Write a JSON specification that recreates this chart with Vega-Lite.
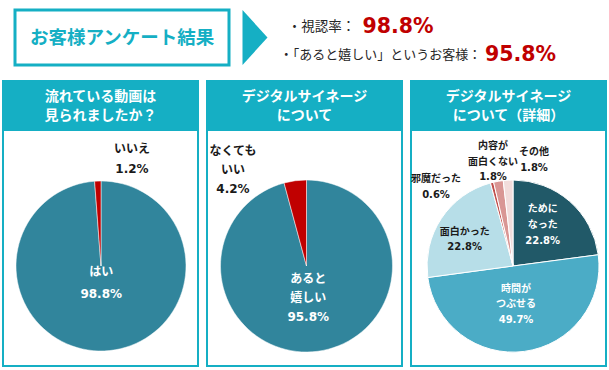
{
  "$schema": "https://vega.github.io/schema/vega-lite/v6.json",
  "background": "white",
  "padding": {"left": 2, "top": 8, "right": 0, "bottom": 0},
  "config": {"view": {"stroke": null}, "font": "Noto Sans CJK JP"},
  "datasets": {
    "pie1": [
      {"name": "はい", "value": 98.8, "order": 1, "label": "はい\n98.8%"},
      {"name": "いいえ", "value": 1.2, "order": 2, "label": "いいえ\n1.2%"}
    ],
    "pie2": [
      {"name": "あると嬉しい", "value": 95.8, "order": 1, "label": "あると\n嬉しい\n95.8%"},
      {"name": "なくてもいい", "value": 4.2, "order": 2, "label": "なくても\nいい\n4.2%"}
    ],
    "pie3": [
      {"name": "ためになった", "value": 22.8, "order": 1, "label": "ために\nなった\n22.8%"},
      {"name": "時間がつぶせる", "value": 49.7, "order": 2, "label": "時間が\nつぶせる\n49.7%"},
      {"name": "面白かった", "value": 22.8, "order": 3, "label": "面白かった\n22.8%"},
      {"name": "邪魔だった", "value": 0.6, "order": 4, "label": "邪魔だった\n0.6%"},
      {"name": "内容が面白くない", "value": 1.8, "order": 5, "label": "内容が\n面白くない\n1.8%"},
      {"name": "その他", "value": 1.8, "order": 6, "label": "その他\n1.8%"}
    ]
  },
  "spacing": 13,
  "resolve": {"scale": {"color": "independent", "theta": "independent"}},
  "vconcat": [
    {
      "spacing": 5,
      "hconcat": [
        {
          "width": 4.5, "height": 55,
          "data": {"values": [{"t": ""}]},
          "mark": {"type": "text"},
          "encoding": {"text": {"field": "t"}}
        },
        {
          "spacing": 11.5,
          "hconcat": [
            {
              "width": 214, "height": 55,
              "view": {"stroke": "#15afc4", "strokeWidth": 3, "fill": "white"},
              "data": {"values": [{"t": "お客様アンケート結果"}]},
              "mark": {"type": "text", "fontSize": 18.5, "fontWeight": "bold", "color": "#15afc4", "font": "Noto Sans CJK JP"},
              "encoding": {"text": {"field": "t"}}
            },
            {
              "width": 25, "height": 55,
              "data": {"values": [{"t": "arrow"}]},
              "mark": {"type": "point", "shape": "M -0.4545 -1 L 0.4545 0 L -0.4545 1 Z", "size": 3025, "filled": true, "color": "#15afc4", "opacity": 1, "strokeWidth": 0},
              "encoding": {}
            },
            {
              "spacing": 0,
              "vconcat": [
                {
                  "spacing": 0,
                  "hconcat": [
                    {
                      "width": 81, "height": 34,
                      "data": {"values": [{"t": "・視認率："}]},
                      "mark": {"type": "text", "fontSize": 13.5, "color": "#262626", "font": "Noto Sans CJK JP"},
                      "encoding": {"text": {"field": "t"}}
                    },
                    {
                      "width": 72, "height": 34,
                      "data": {"values": [{"t": "98.8%"}]},
                      "mark": {"type": "text", "fontSize": 20.5, "fontWeight": "bold", "color": "#c00000", "font": "DejaVu Sans"},
                      "encoding": {"text": {"field": "t"}}
                    }
                  ]
                },
                {
                  "spacing": 2.5,
                  "hconcat": [
                    {
                      "width": 199, "height": 21,
                      "data": {"values": [{"t": "・「あると嬉しい」というお客様："}]},
                      "mark": {"type": "text", "fontSize": 13, "color": "#262626", "font": "Noto Sans CJK JP"},
                      "encoding": {"text": {"field": "t"}}
                    },
                    {
                      "width": 72, "height": 21,
                      "data": {"values": [{"t": "95.8%"}]},
                      "mark": {"type": "text", "fontSize": 20.5, "fontWeight": "bold", "color": "#c00000", "font": "DejaVu Sans"},
                      "encoding": {"text": {"field": "t"}}
                    }
                  ]
                }
              ]
            }
          ]
        }
      ]
    },
    {
      "spacing": 7,
      "resolve": {"scale": {"color": "independent", "theta": "independent"}},
      "hconcat": [
        {
          "spacing": 0,
          "vconcat": [
            {
              "width": 195, "height": 47,
              "view": {"fill": "#15afc4", "stroke": "#15afc4", "strokeWidth": 2},
              "data": {"values": [{"t": "流れている動画は\n見られましたか？"}]},
              "mark": {"type": "text", "color": "white", "fontSize": 14, "fontWeight": "bold", "lineBreak": "\n", "lineHeight": 19, "dy": -7.5, "font": "Noto Sans CJK JP"},
              "encoding": {"text": {"field": "t"}}
            },
            {
              "width": 195, "height": 236,
              "view": {"stroke": "#15afc4", "strokeWidth": 2, "fill": "white"},
              "data": {"name": "pie1"},
              "layer": [
                {
                  "mark": {"type": "arc", "outerRadius": 85, "yOffset": 18, "xOffset": 0.5, "stroke": "white", "strokeWidth": 0.5},
                  "encoding": {
                    "theta": {"field": "value", "type": "quantitative", "stack": true},
                    "order": {"field": "order", "type": "quantitative"},
                    "color": {"field": "name", "type": "nominal", "scale": {"domain": ["はい", "いいえ"], "range": ["#31859c", "#c00000"]}, "legend": null}
                  }
                },
                {
                  "mark": {"type": "text", "radius": 6, "yOffset": 18, "xOffset": 0.5, "color": "white", "fontSize": 12, "fontWeight": "bold", "lineBreak": "\n", "lineHeight": 22, "font": "DejaVu Sans, Noto Sans CJK JP"},
                  "encoding": {
                    "theta": {"field": "value", "type": "quantitative", "stack": true},
                    "order": {"field": "order", "type": "quantitative"},
                    "text": {"condition": {"test": "datum.value > 10", "field": "label"}, "value": ""}
                  }
                },
                {
                  "transform": [{"filter": "datum.name === 'いいえ'"}],
                  "mark": {"type": "text", "xOffset": 31.5, "yOffset": -99, "color": "#1a1a1a", "fontSize": 12, "fontWeight": "bold", "lineBreak": "\n", "lineHeight": 20, "font": "DejaVu Sans, Noto Sans CJK JP"},
                  "encoding": {"text": {"field": "label"}}
                }
              ]
            }
          ]
        },
        {
          "spacing": 0,
          "vconcat": [
            {
              "width": 195, "height": 47,
              "view": {"fill": "#15afc4", "stroke": "#15afc4", "strokeWidth": 2},
              "data": {"values": [{"t": "デジタルサイネージ\nについて"}]},
              "mark": {"type": "text", "color": "white", "fontSize": 14, "fontWeight": "bold", "lineBreak": "\n", "lineHeight": 19, "dy": -7.5, "font": "Noto Sans CJK JP"},
              "encoding": {"text": {"field": "t"}}
            },
            {
              "width": 195, "height": 236,
              "view": {"stroke": "#15afc4", "strokeWidth": 2, "fill": "white"},
              "data": {"name": "pie2"},
              "layer": [
                {
                  "mark": {"type": "arc", "outerRadius": 86, "yOffset": 18, "xOffset": 2, "stroke": "white", "strokeWidth": 0.5},
                  "encoding": {
                    "theta": {"field": "value", "type": "quantitative", "stack": true},
                    "order": {"field": "order", "type": "quantitative"},
                    "color": {"field": "name", "type": "nominal", "scale": {"domain": ["あると嬉しい", "なくてもいい"], "range": ["#31859c", "#c00000"]}, "legend": null}
                  }
                },
                {
                  "mark": {"type": "text", "radius": 13, "yOffset": 18, "xOffset": 2, "color": "white", "fontSize": 12, "fontWeight": "bold", "lineBreak": "\n", "lineHeight": 19, "font": "DejaVu Sans, Noto Sans CJK JP"},
                  "encoding": {
                    "theta": {"field": "value", "type": "quantitative", "stack": true},
                    "order": {"field": "order", "type": "quantitative"},
                    "text": {"condition": {"test": "datum.value > 10", "field": "label"}, "value": ""}
                  }
                },
                {
                  "transform": [{"filter": "datum.name === 'なくてもいい'"}],
                  "mark": {"type": "text", "xOffset": -71.5, "yOffset": -97, "color": "#1a1a1a", "fontSize": 12, "fontWeight": "bold", "lineBreak": "\n", "lineHeight": 19, "font": "DejaVu Sans, Noto Sans CJK JP"},
                  "encoding": {"text": {"field": "label"}}
                }
              ]
            }
          ]
        },
        {
          "spacing": 0,
          "vconcat": [
            {
              "width": 195, "height": 47,
              "view": {"fill": "#15afc4", "stroke": "#15afc4", "strokeWidth": 2},
              "data": {"values": [{"t": "デジタルサイネージ\nについて（詳細）"}]},
              "mark": {"type": "text", "color": "white", "fontSize": 14, "fontWeight": "bold", "lineBreak": "\n", "lineHeight": 19, "dy": -7.5, "font": "Noto Sans CJK JP"},
              "encoding": {"text": {"field": "t"}}
            },
            {
              "width": 195, "height": 236,
              "view": {"stroke": "#15afc4", "strokeWidth": 2, "fill": "white"},
              "data": {"name": "pie3"},
              "layer": [
                {
                  "mark": {"type": "arc", "outerRadius": 86, "yOffset": 18, "xOffset": 4.5, "stroke": "white", "strokeWidth": 1},
                  "encoding": {
                    "theta": {"field": "value", "type": "quantitative", "stack": true},
                    "order": {"field": "order", "type": "quantitative"},
                    "color": {"field": "name", "type": "nominal", "scale": {"domain": ["ためになった", "時間がつぶせる", "面白かった", "邪魔だった", "内容が面白くない", "その他"], "range": ["#215968", "#4bacc6", "#b7dee8", "#c0504d", "#d99694", "#f2dcdb"]}, "legend": null}
                  }
                },
                {
                  "mark": {"type": "text", "radius": 23, "yOffset": 18, "xOffset": 4.5, "color": "white", "fontSize": 10, "fontWeight": "bold", "lineBreak": "\n", "lineHeight": 15.5, "font": "DejaVu Sans, Noto Sans CJK JP"},
                  "encoding": {
                    "theta": {"field": "value", "type": "quantitative", "stack": true},
                    "order": {"field": "order", "type": "quantitative"},
                    "text": {"condition": {"test": "datum.name === '時間がつぶせる'", "field": "label"}, "value": ""}
                  }
                },
                {
                  "mark": {"type": "text", "radius": 45, "yOffset": 18, "xOffset": 4.5, "dy": -23, "color": "white", "fontSize": 10, "fontWeight": "bold", "lineBreak": "\n", "lineHeight": 16, "font": "DejaVu Sans, Noto Sans CJK JP"},
                  "encoding": {
                    "theta": {"field": "value", "type": "quantitative", "stack": true},
                    "order": {"field": "order", "type": "quantitative"},
                    "text": {"condition": {"test": "datum.name === 'ためになった'", "field": "label"}, "value": ""}
                  }
                },
                {
                  "mark": {"type": "text", "radius": 58, "yOffset": 18, "xOffset": 4.5, "dy": -2, "color": "#1a1a1a", "fontSize": 10, "fontWeight": "bold", "lineBreak": "\n", "lineHeight": 15, "font": "DejaVu Sans, Noto Sans CJK JP"},
                  "encoding": {
                    "theta": {"field": "value", "type": "quantitative", "stack": true},
                    "order": {"field": "order", "type": "quantitative"},
                    "text": {"condition": {"test": "datum.name === '面白かった'", "field": "label"}, "value": ""}
                  }
                },
                {
                  "transform": [{"filter": "datum.name === '邪魔だった'"}],
                  "mark": {"type": "text", "xOffset": -72.5, "yOffset": -69, "color": "#1a1a1a", "fontSize": 10, "fontWeight": "bold", "lineBreak": "\n", "lineHeight": 16, "font": "DejaVu Sans, Noto Sans CJK JP"},
                  "encoding": {"text": {"field": "label"}}
                },
                {
                  "transform": [{"filter": "datum.name === '内容が面白くない'"}],
                  "mark": {"type": "text", "xOffset": -15.5, "yOffset": -102, "color": "#1a1a1a", "fontSize": 10, "fontWeight": "bold", "lineBreak": "\n", "lineHeight": 15.5, "font": "DejaVu Sans, Noto Sans CJK JP"},
                  "encoding": {"text": {"field": "label"}}
                },
                {
                  "transform": [{"filter": "datum.name === 'その他'"}],
                  "mark": {"type": "text", "xOffset": 25.5, "yOffset": -96, "color": "#1a1a1a", "fontSize": 10, "fontWeight": "bold", "lineBreak": "\n", "lineHeight": 16, "font": "DejaVu Sans, Noto Sans CJK JP"},
                  "encoding": {"text": {"field": "label"}}
                }
              ]
            }
          ]
        }
      ]
    }
  ]
}
